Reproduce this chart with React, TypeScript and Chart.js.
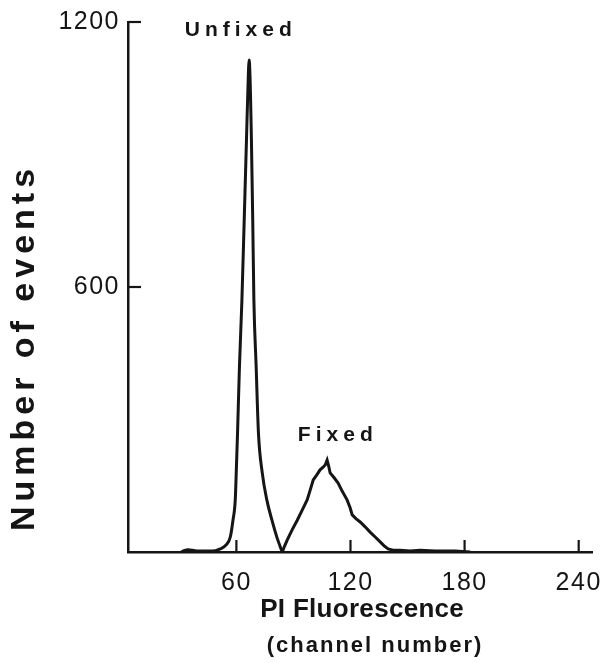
import React, { useEffect, useRef } from "react";
import { Chart, registerables } from "chart.js";

Chart.register(...registerables);

// PI fluorescence channel numbers and event counts
const unfixedChannel = [31, 32.5, 34.5, 37, 40, 45, 49, 51.5, 54.6, 56.8, 58.2, 59.4, 60.0, 60.6, 61.6, 62.9, 64.1, 65.3, 66.0, 66.7, 67.4, 67.9, 68.6, 69.2, 70.4, 71.6, 73.6, 76.0, 78.7, 81.4, 84.1];
const unfixedEvents = [0, 3, 5, 4, 2, 2, 3, 7, 16, 34, 72, 118, 190, 269, 419, 570, 750, 933, 1040, 1114, 1040, 933, 750, 570, 419, 269, 179, 118, 72, 32, 0];

const fixedChannel = [84.1, 85.4, 86.7, 89.3, 92.0, 94.6, 97.2, 98.8, 100.4, 102.2, 104.0, 105.6, 106.7, 107.7, 108.5, 109.3, 111.4, 113.5, 115.6, 118.2, 119.8, 120.9, 123.0, 125.1, 127.7, 130.3, 133.0, 135.6, 137.7, 139.8, 142.4, 146.1, 151.3, 156.6, 164.5, 175, 183];
const fixedEvents = [0, 14, 27, 50, 72, 95, 118, 140, 163, 174, 186, 192, 197, 208, 195, 179, 168, 156, 138, 118, 100, 84, 75, 68, 57, 45, 34, 23, 14, 7, 4, 4, 2, 4, 2, 2, 0];

const xTickValues = [60, 120, 180, 240];
const yTickValues = [600, 1200];
const xRange = [3, 247];
const yRange = [0, 1200];

const seriesNames = ["Unfixed", "Fixed"];
// annotation anchors in data coordinates (channel, events)
const labelChannels = [61, 112];
const labelEvents = [1182, 265];

const yTitle = "Number of events";
const xTitleLines = ["PI Fluorescence", "(channel number)"];

const INK = "#151515";
const FONT = "'Liberation Sans', Arial, Helvetica, sans-serif";

function drawSpaced(ctx: any, text: string, x: number, y: number, font: string, spacing: number, rotation = 0) {
  ctx.save();
  ctx.letterSpacing = spacing + "px";
  ctx.font = font;
  ctx.fillStyle = INK;
  ctx.textAlign = "center";
  ctx.textBaseline = "middle";
  ctx.translate(x, y);
  ctx.rotate(rotation);
  ctx.fillText(text, spacing / 2, 0);
  ctx.restore();
}

const spacingPlugin = {
  id: "spacing",
  beforeDraw(chart: any) {
    chart.ctx.letterSpacing = "1.5px";
  },
  afterDraw(chart: any) {
    chart.ctx.letterSpacing = "0px";
  },
};

const decorPlugin = {
  id: "decor",
  afterDatasetsDraw(chart: any) {
    const ctx = chart.ctx;
    const xs = chart.scales.x;
    const ys = chart.scales.y;
    const area = chart.chartArea;
    ctx.save();
    ctx.letterSpacing = "0px";
    ctx.strokeStyle = INK;
    ctx.lineWidth = 2.2;
    ctx.lineCap = "butt";
    // inward tick marks
    xTickValues.forEach((v) => {
      const px = xs.getPixelForValue(v);
      ctx.beginPath();
      ctx.moveTo(px, area.bottom);
      ctx.lineTo(px, area.bottom - 12);
      ctx.stroke();
    });
    yTickValues.forEach((v) => {
      const py = ys.getPixelForValue(v);
      ctx.beginPath();
      ctx.moveTo(area.left, py);
      ctx.lineTo(area.left + 13, py);
      ctx.stroke();
    });
    ctx.restore();

    // series annotations
    seriesNames.forEach((name, i) => {
      const px = xs.getPixelForValue(labelChannels[i]);
      const py = ys.getPixelForValue(labelEvents[i]);
      drawSpaced(ctx, name, px, py, `bold 21px ${FONT}`, 5);
    });
  },
  afterDraw(chart: any) {
    const ctx = chart.ctx;
    drawSpaced(ctx, yTitle, 25, 350, `bold 34px ${FONT}`, 5, -Math.PI / 2);
    drawSpaced(ctx, xTitleLines[0], 362, 610, `bold 26px ${FONT}`, 0.3);
    drawSpaced(ctx, xTitleLines[1], 374, 646, `bold 22px ${FONT}`, 2);
  },
};

export default function App() {
  const ref = useRef<HTMLCanvasElement>(null);

  useEffect(() => {
    const canvas = ref.current;
    if (!canvas) return;
    const chart = new Chart(canvas, {
      type: "line",
      data: {
        datasets: [
          {
            label: seriesNames[0],
            data: unfixedChannel.map((x, i) => ({ x, y: unfixedEvents[i] })),
            borderColor: INK,
            borderWidth: 3,
            pointRadius: 0,
            cubicInterpolationMode: "monotone",
            fill: false,
          },
          {
            label: seriesNames[1],
            data: fixedChannel.map((x, i) => ({ x, y: fixedEvents[i] })),
            borderColor: INK,
            borderWidth: 3,
            pointRadius: 0,
            tension: 0,
            fill: false,
          },
        ],
      },
      options: {
        responsive: false,
        animation: false,
        layout: { padding: { top: 22, right: 16, left: 0, bottom: 0 } },
        plugins: { legend: { display: false }, tooltip: { enabled: false } },
        scales: {
          x: {
            type: "linear",
            min: xRange[0],
            max: xRange[1],
            grid: { display: false, drawTicks: false },
            border: { display: true, color: INK, width: 2.5 },
            ticks: {
              color: INK,
              font: { family: FONT, size: 25 },
              padding: 16,
              maxRotation: 0,
              autoSkip: false,
              callback: (v: any) => String(v),
            },
            afterBuildTicks: (s: any) => {
              s.ticks = xTickValues.map((v) => ({ value: v }));
            },
            afterFit: (s: any) => {
              s.height = 111;
              s.paddingLeft = 0;
              s.paddingRight = 0;
            },
          },
          y: {
            type: "linear",
            min: yRange[0],
            max: yRange[1],
            grid: { display: false, drawTicks: false },
            border: { display: true, color: INK, width: 2.5 },
            ticks: {
              color: INK,
              font: { family: FONT, size: 25 },
              padding: 8,
              autoSkip: false,
              callback: (v: any) => String(v),
            },
            afterBuildTicks: (s: any) => {
              s.ticks = yTickValues.map((v) => ({ value: v }));
            },
            afterFit: (s: any) => {
              s.width = 128;
              s.paddingTop = 0;
              s.paddingBottom = 0;
            },
          },
        },
      },
      plugins: [spacingPlugin, decorPlugin],
    } as any);
    return () => chart.destroy();
  }, []);

  return (
    <canvas
      ref={ref}
      width={608}
      height={663}
      style={{ position: "absolute", left: 0, top: 0, width: 608, height: 663, background: "#fff" }}
    />
  );
}
